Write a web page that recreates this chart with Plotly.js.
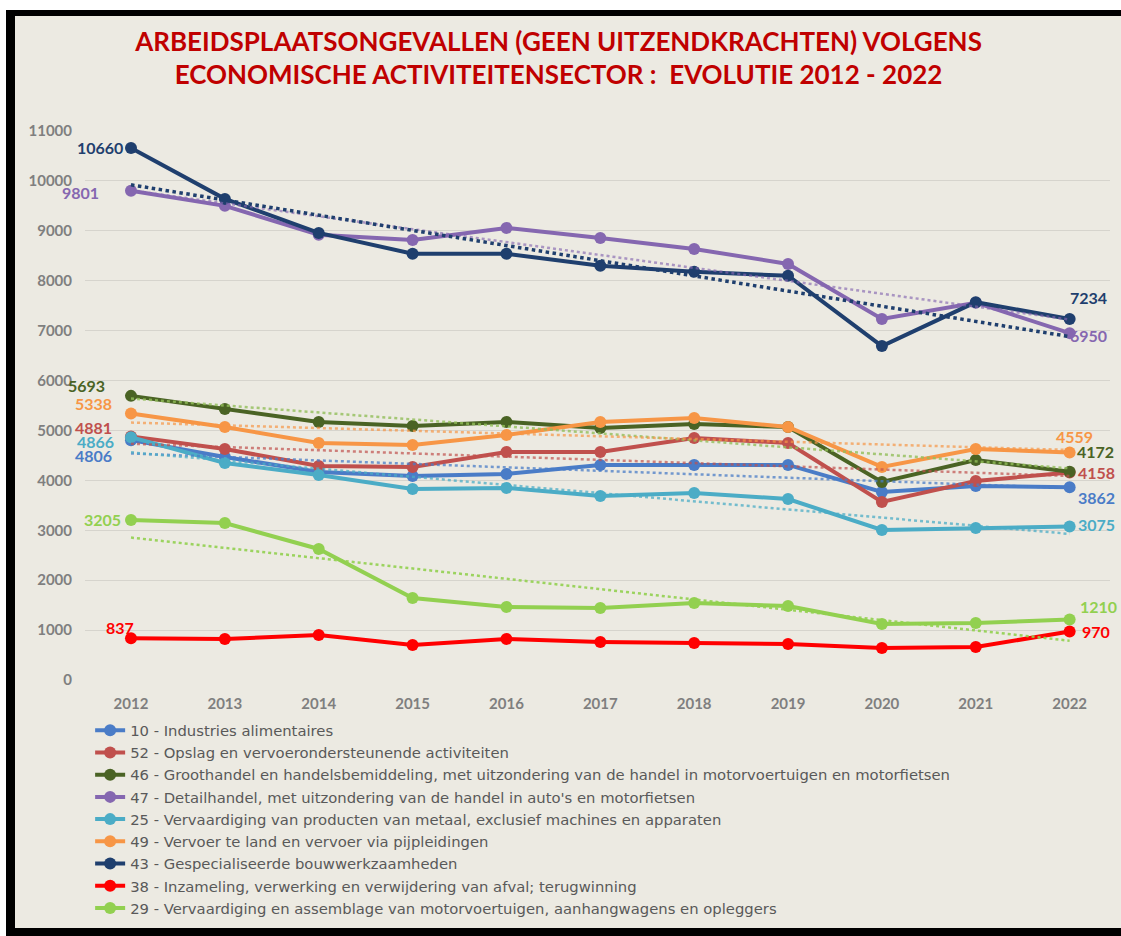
<!DOCTYPE html>
<html>
<head>
<meta charset="utf-8">
<script src="https://cdn.plot.ly/plotly-3.0.1.min.js"></script>
<style>
  html, body { margin: 0; padding: 0; background: #ffffff; overflow: hidden; width: 100%; height: 100%; }
  #frame {
    position: absolute; left: 6px; top: 10px; right: 0; bottom: 0;
    background: #eceae2; border-left: 9px solid #000; border-top: 6px solid #000; border-bottom: 8px solid #000;
  }
  #chart { position: absolute; left: 15px; top: 16px; width: 1106px; height: 912px; }
</style>
</head>
<body>
<div id="frame"></div>
<div id="chart"></div>
<script>
// ── Données ──────────────────────────────────────────
const years = [2012, 2013, 2014, 2015, 2016, 2017, 2018, 2019, 2020, 2021, 2022];

const s10 = [4806, 4469, 4168, 4088, 4128, 4309, 4309, 4309, 3768, 3888, 3862];
const s52 = [4881, 4629, 4289, 4269, 4569, 4569, 4850, 4749, 3567, 3988, 4158];
const s46 = [5693, 5431, 5170, 5090, 5170, 5050, 5130, 5070, 3968, 4409, 4172];
const s47 = [9801, 9500, 8920, 8818, 9058, 8858, 8637, 8337, 7234, 7560, 6950];
const s25 = [4866, 4349, 4108, 3828, 3848, 3687, 3747, 3627, 3006, 3046, 3075];
const s49 = [5338, 5070, 4749, 4709, 4910, 5170, 5250, 5070, 4269, 4629, 4559];
const s43 = [10660, 9640, 8958, 8540, 8540, 8300, 8180, 8100, 6690, 7570, 7234];
const s38 = [837, 820, 902, 701, 822, 762, 742, 721, 641, 661, 970];
const s29 = [3205, 3146, 2625, 1643, 1463, 1443, 1543, 1483, 1122, 1142, 1210];

const trendYears = [2012, 2022];
const t10 = [4538, 3845];
const t52 = [4733, 4088];
const t46 = [5640, 4242];
const t47 = [9809, 7222];
const t25 = [4561, 2927];
const t49 = [5158, 4609];
const t43 = [9921, 6881];
const t29 = [2854, 787];

const names = [
  '10 - Industries alimentaires',
  '52 - Opslag en vervoerondersteunende activiteiten',
  '46 - Groothandel en handelsbemiddeling, met uitzondering van de handel in motorvoertuigen en motorfietsen',
  '47 - Detailhandel, met uitzondering van de handel in auto\'s en motorfietsen',
  '25 - Vervaardiging van producten van metaal, exclusief machines en apparaten',
  '49 - Vervoer te land en vervoer via pijpleidingen',
  '43 - Gespecialiseerde bouwwerkzaamheden',
  '38 - Inzameling, verwerking en verwijdering van afval; terugwinning',
  '29 - Vervaardiging en assemblage van motorvoertuigen, aanhangwagens en opleggers',
];

const series = [
  { y: s10, trend: t10, color: '#4a7cc7', tcolor: 'rgba(74,124,199,0.75)', tw: 2.5 },
  { y: s52, trend: t52, color: '#c0504d', tcolor: 'rgba(192,80,77,0.7)', tw: 2.5 },
  { y: s46, trend: t46, color: '#4a6324', tcolor: 'rgba(146,190,90,0.8)', tw: 2.5 },
  { y: s47, trend: t47, color: '#8567b0', tcolor: 'rgba(133,103,176,0.65)', tw: 2.5 },
  { y: s25, trend: t25, color: '#4bacc6', tcolor: 'rgba(75,172,198,0.75)', tw: 2.5 },
  { y: s49, trend: t49, color: '#f79646', tcolor: 'rgba(247,150,70,0.7)', tw: 2.5 },
  { y: s43, trend: t43, color: '#1f3f6e', tcolor: '#1f3f6e', tw: 3.5 },
  { y: s38, trend: null, color: '#ff0000', tcolor: null, tw: 0 },
  { y: s29, trend: t29, color: '#92d050', tcolor: 'rgba(146,208,80,0.9)', tw: 2.5 },
];

// ── Traces ───────────────────────────────────────────
const traces = series.map((s, i) => ({
  x: years, y: s.y, name: names[i], type: 'scatter', mode: 'lines+markers',
  line: { color: s.color, width: 4 },
  marker: { color: s.color, size: 12 },
  hovertemplate: '%{y}<extra></extra>',
}));

series.forEach(s => {
  if (!s.trend) return;
  traces.push({
    x: trendYears, y: s.trend, type: 'scatter', mode: 'lines', showlegend: false,
    line: { color: s.tcolor, width: s.tw, dash: 'dot' },
    hoverinfo: 'skip',
  });
});

// ── Labels (eerste / laatste waarde) ─────────────────
function lbl(yArr, idx, color, xanchor, xshift, yshift) {
  return {
    x: years[idx], y: yArr[idx], xref: 'x', yref: 'y',
    text: String(yArr[idx]), showarrow: false,
    xanchor, yanchor: 'middle', xshift, yshift,
    font: { family: 'Lato, sans-serif', size: 16, weight: 700, color },
  };
}
const L = 0, R = years.length - 1;
const annotations = [
  lbl(s43, L, '#1f3f6e', 'right', -6, 0),
  lbl(s47, L, '#8567b0', 'right', -30, -2),
  lbl(s46, L, '#4a6324', 'right', -24, 10),
  lbl(s49, L, '#f79646', 'right', -17, 10),
  lbl(s52, L, '#c0504d', 'right', -17, 9),
  lbl(s25, L, '#4bacc6', 'right', -15, -4),
  lbl(s10, L, '#4a7cc7', 'right', -17, -15),
  lbl(s29, L, '#92d050', 'right', -8, 1),
  lbl(s38, L, '#ff0000', 'center', -11, 11),
  lbl(s43, R, '#1f3f6e', 'center', 19, 21),
  lbl(s47, R, '#8567b0', 'left', -2, -2),
  lbl(s49, R, '#f79646', 'center', 5, 16),
  lbl(s46, R, '#4a6324', 'left', 5, 20),
  lbl(s52, R, '#c0504d', 'left', 6, 0),
  lbl(s10, R, '#4a7cc7', 'left', 6, -10),
  lbl(s25, R, '#4bacc6', 'left', 6, 2),
  lbl(s29, R, '#92d050', 'left', 8, 13),
  lbl(s38, R, '#ff0000', 'left', 10, 0),
];

const AXFONT = { family: 'Lato, sans-serif', size: 15, color: '#7f7f7f', weight: 700 };

const layout = {
  width: 1106, height: 912, autosize: false,
  paper_bgcolor: '#eceae2', plot_bgcolor: '#eceae2',
  margin: { l: 70, r: 11, t: 115, b: 248, autoexpand: false },
  title: {
    text: 'ARBEIDSPLAATSONGEVALLEN (GEEN UITZENDKRACHTEN) VOLGENS<br>ECONOMISCHE ACTIVITEITENSECTOR :  EVOLUTIE 2012 - 2022',
    font: { family: 'Lato, sans-serif', size: 26, weight: 700, color: '#c00000' },
    xref: 'paper', x: 0.462, xanchor: 'center',
    yref: 'container', y: 0.962, yanchor: 'middle',
  },
  xaxis: {
    type: 'linear', range: [2011.51, 2022.43], tickmode: 'array', tickvals: years,
    showgrid: false, zeroline: false, showline: false, ticks: '',
    tickfont: AXFONT, ticklabelstandoff: 13,
  },
  yaxis: {
    range: [0, 11000], dtick: 1000, tickformat: 'd', showgrid: true, gridcolor: '#d6d4cd', gridwidth: 1,
    zeroline: false, showline: false, ticks: '', tickfont: AXFONT, ticklabelstandoff: 12,
  },
  showlegend: true,
  legend: {
    x: 0.005, xanchor: 'left', y: -0.062, yanchor: 'top',
    bgcolor: 'rgba(0,0,0,0)', traceorder: 'normal', itemwidth: 30,
    font: { family: 'DejaVu Sans, sans-serif', size: 14.8, color: '#595959' },
    tracegroupgap: 0,
  },
  annotations,
};

Plotly.newPlot('chart', traces, layout, { displayModeBar: false, responsive: false });
</script>
</body>
</html>
